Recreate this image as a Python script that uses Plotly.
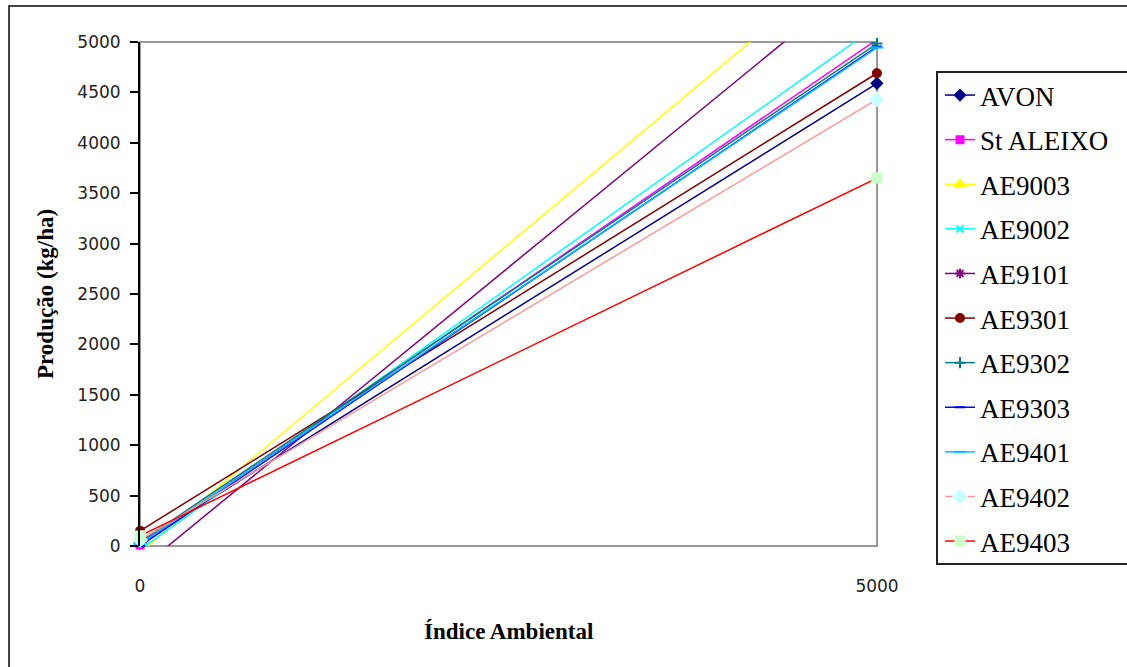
import plotly.graph_objects as go

# Environmental index at the two ends of each regression line
indice = [0, 5000]

# Fitted yield (kg/ha) at those two index values, per genotype
avon = [30, 4590]
st_aleixo = [10, 5025]
ae9003 = [-65, 6055]
ae9002 = [-35, 5160]
ae9101 = [-227, 5755]
ae9301 = [150, 4690]
ae9302 = [40, 4985]
ae9303 = [0, 4955]
ae9401 = [20, 4945]
ae9402 = [60, 4430]
ae9403 = [100, 3650]

y_ticks = [0, 500, 1000, 1500, 2000, 2500, 3000, 3500, 4000, 4500, 5000]
x_ticks = [0, 5000]
Y_MAX = 5000

series = [
    ("AVON", avon, "#000080", "#000080", "diamond", 8),
    ("St ALEIXO", st_aleixo, "#FF00FF", "#FF00FF", "square", 7),
    ("AE9003", ae9003, "#FFFF00", "#FFFF00", "triangle-up", 9),
    ("AE9002", ae9002, "#00FFFF", "#00FFFF", "x-thin", 7),
    ("AE9101", ae9101, "#800080", "#800080", "asterisk", 8),
    ("AE9301", ae9301, "#800000", "#800000", "circle", 8),
    ("AE9302", ae9302, "#008080", "#008080", "cross-thin", 8),
    ("AE9303", ae9303, "#0000FF", "#0000FF", "line-ew", 7),
    ("AE9401", ae9401, "#00BFFF", "#00BFFF", "line-ew", 9),
    ("AE9402", ae9402, "#FF9999", "#CCFFFF", "diamond", 10),
    ("AE9403", ae9403, "#FF0000", "#CCFFCC", "square", 9),
]

fig = go.Figure()
for name, vals, line_c, mark_c, sym, size in series:
    marker = dict(symbol=sym, size=size, color=mark_c,
                  line=dict(color=mark_c, width=2))
    # the line (clipped to the plot area) carries the legend entry
    fig.add_trace(go.Scatter(
        x=indice, y=vals, name=name, mode="lines+markers",
        legendgroup=name,
        line=dict(color=line_c, width=1.5),
        marker=marker,
        cliponaxis=True,
    ))
    # end-point markers drawn unclipped, shown only when inside the y range
    vis = [1 if 0 <= v <= Y_MAX else 0 for v in vals]
    fig.add_trace(go.Scatter(
        x=indice, y=vals, name=name, mode="markers",
        legendgroup=name, showlegend=False, hoverinfo="skip",
        marker=dict(marker, opacity=vis),
        cliponaxis=False,
    ))

W, H = 1127, 667
L, R, T, B = 140, 250, 42, 121
PW, PH = W - L - R, H - T - B


def px_x(p):
    return (p - L) / PW


def px_y(p):
    return (H - B - p) / PH


shapes = [
    # plot area frame
    dict(type="rect", xref="paper", yref="paper", x0=0, y0=0, x1=1, y1=1,
         line=dict(color="#999999", width=2), layer="below"),
    # outer chart frame
    dict(type="rect", xref="paper", yref="paper",
         x0=px_x(9), y0=px_y(700), x1=px_x(1160), y1=px_y(6),
         line=dict(color="#444444", width=2)),
    # legend frame
    dict(type="rect", xref="paper", yref="paper",
         x0=px_x(937), y0=px_y(564), x1=px_x(1160), y1=px_y(72),
         line=dict(color="#222222", width=2)),
]

serif = "Liberation Serif, Times New Roman, serif"
sans = "DejaVu Sans, Verdana, sans-serif"

fig.update_layout(
    width=W, height=H,
    margin=dict(l=L, r=R, t=T, b=B, autoexpand=False),
    paper_bgcolor="white", plot_bgcolor="white",
    showlegend=True,
    legend=dict(
        x=px_x(940), xanchor="left", y=px_y(71), yanchor="top",
        font=dict(family=serif, size=27, color="black"),
        bgcolor="rgba(0,0,0,0)", borderwidth=0,
        traceorder="grouped", tracegroupgap=6.5,
        itemwidth=30,
    ),
    xaxis=dict(
        range=[0, 5000], tickvals=x_ticks, ticktext=[str(v) for v in x_ticks],
        showgrid=False, zeroline=False, showline=False, ticks="",
        tickfont=dict(family=sans, size=17, color="#222222"),
        ticklabelstandoff=28,
    ),
    yaxis=dict(
        range=[0, 5000], tickvals=y_ticks, showgrid=False, zeroline=False,
        showline=True, linecolor="black", linewidth=2,
        ticks="outside", ticklen=8, tickwidth=1.5, tickcolor="black",
        tickfont=dict(family=sans, size=17, color="#222222"),
        ticklabelstandoff=6,
    ),
    shapes=shapes,
    annotations=[
        dict(text="<b>Produção (kg/ha)</b>", xref="paper", yref="paper",
             x=px_x(45), y=0.5, textangle=-90, showarrow=False,
             font=dict(family=serif, size=23, color="black"),
             xanchor="center", yanchor="middle"),
        dict(text="<b>Índice Ambiental</b>", xref="paper", yref="paper",
             x=0.5, y=px_y(631), showarrow=False,
             font=dict(family=serif, size=23, color="black"),
             xanchor="center", yanchor="middle"),
    ],
)

fig.write_html("out.html")
